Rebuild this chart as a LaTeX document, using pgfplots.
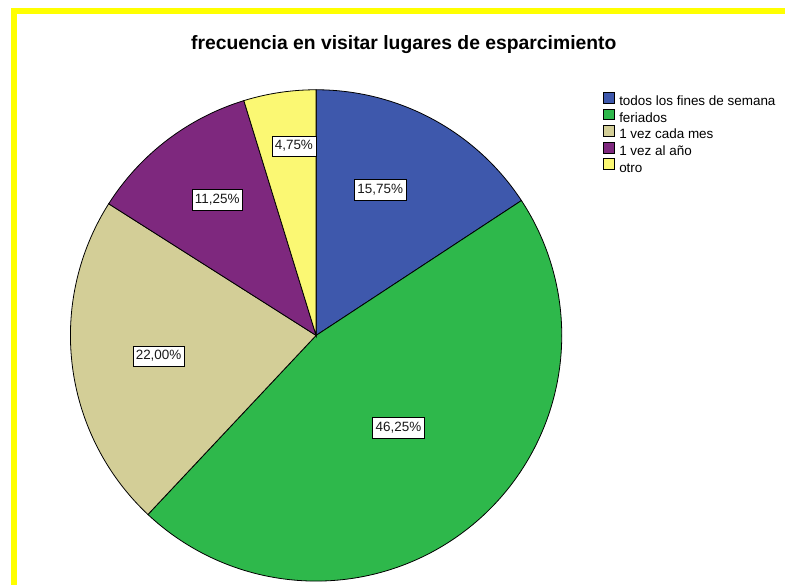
\documentclass[border=0pt]{standalone}
\usepackage{pgfplots}
\pgfplotsset{compat=1.18}
\usepackage{fontspec}
\setmainfont{Liberation Sans}
\definecolor{cBlue}{RGB}{62,88,172}
\definecolor{cGreen}{RGB}{46,184,75}
\definecolor{cTan}{RGB}{211,206,151}
\definecolor{cPurple}{RGB}{126,40,126}
\definecolor{cYellow}{RGB}{251,248,115}
\definecolor{cBorder}{RGB}{255,255,0}
% values (percent)
\def\vA{15.75}\def\vB{46.25}\def\vC{22.00}\def\vD{11.25}\def\vE{4.75}
\pgfmathsetmacro\aA{90}
\pgfmathsetmacro\aB{\aA-\vA*3.6}
\pgfmathsetmacro\aC{\aB-\vB*3.6}
\pgfmathsetmacro\aD{\aC-\vC*3.6}
\pgfmathsetmacro\aE{\aD-\vD*3.6}
\pgfmathsetmacro\aF{\aE-\vE*3.6}
\def\cx{317.3}\def\cy{250.3}\def\R{246.6}
\begin{document}
\begin{tikzpicture}
\begin{axis}[
  width=788pt, height=587pt, scale only axis,
  xmin=0, xmax=788, ymin=0, ymax=587,
  hide axis, clip=false,
  legend image code/.code={\filldraw[#1, draw=black, line width=0.6pt] (0pt,2.4pt) rectangle (11pt,13.3pt);},
  legend style={at={(axis cs:605,494.7)}, anchor=north west, draw=none, fill=none,
    inner sep=0pt, outer sep=0pt,
    font=\fontsize{13.5}{15}\selectfont,
    nodes={inner xsep=0.5pt, inner ysep=0.6pt, anchor=base west, text height=12.5pt, text depth=2.5pt},
    row sep=0pt,
    /tikz/every odd column/.append style={column sep=4.5pt}},
]
\path (axis cs:0,0) rectangle (axis cs:788,587);
\addplot[fill=cBlue, draw=black, line width=0.8pt, domain=\aB:\aA, samples=80, variable=\t]
  ({\cx+\R*cos(\t)},{\cy+\R*sin(\t)}) -- (axis cs:\cx,\cy) -- cycle;
\addlegendentry{todos los fines de semana}
\addplot[fill=cGreen, draw=black, line width=0.8pt, domain=\aC:\aB, samples=160, variable=\t]
  ({\cx+\R*cos(\t)},{\cy+\R*sin(\t)}) -- (axis cs:\cx,\cy) -- cycle;
\addlegendentry{feriados}
\addplot[fill=cTan, draw=black, line width=0.8pt, domain=\aD:\aC, samples=100, variable=\t]
  ({\cx+\R*cos(\t)},{\cy+\R*sin(\t)}) -- (axis cs:\cx,\cy) -- cycle;
\addlegendentry{1 vez cada mes}
\addplot[fill=cPurple, draw=black, line width=0.8pt, domain=\aE:\aD, samples=60, variable=\t]
  ({\cx+\R*cos(\t)},{\cy+\R*sin(\t)}) -- (axis cs:\cx,\cy) -- cycle;
\addlegendentry{1 vez al año}
\addplot[fill=cYellow, draw=black, line width=0.8pt, domain=\aF:\aE, samples=30, variable=\t]
  ({\cx+\R*cos(\t)},{\cy+\R*sin(\t)}) -- (axis cs:\cx,\cy) -- cycle;
\addlegendentry{otro}
% labels
\tikzset{lbl/.style={fill=white, draw=black, line width=0.6pt, inner xsep=3pt, inner ysep=4.3pt,
  text height=9.6pt, text depth=2.5pt, text=black!90,
  font=\fontsize{13.5}{15}\selectfont}}
\node[lbl] at (axis cs:381.7,396.2) {15,75\%};
\node[lbl] at (axis cs:400,157.5) {46,25\%};
\node[lbl] at (axis cs:159.2,229.5) {22,00\%};
\node[lbl] at (axis cs:218,386.2) {11,25\%};
\node[lbl] at (axis cs:295,440.3) {4,75\%};
% title
\node[anchor=base, font=\bfseries\fontsize{19.4}{22}\selectfont] at (axis cs:405.3,537) {frecuencia en visitar lugares de esparcimiento};
% border
\draw[cBorder, line width=6pt] (axis cs:14,0) -- (axis cs:14,576) -- (axis cs:788,576);
\end{axis}
\end{tikzpicture}
\end{document}
